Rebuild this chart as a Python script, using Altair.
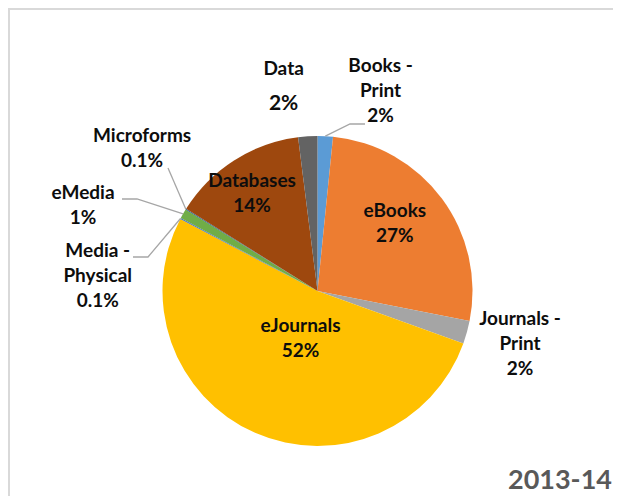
import math
import altair as alt
import pandas as pd

# ---- data ----
categories = ["Books - Print", "eBooks", "Journals - Print", "eJournals",
              "Media - Physical", "eMedia", "Microforms", "Databases", "Data"]
name_lines = ["Books -\nPrint", "eBooks", "Journals -\nPrint", "eJournals",
              "Media -\nPhysical", "eMedia", "Microforms", "Databases", "Data"]
values = [1.6, 26.5, 2.4, 52.2, 0.1, 1.0, 0.1, 14.1, 2.0]
pct_labels = ["2%", "27%", "2%", "52%", "0.1%", "1%", "0.1%", "14%", "2%"]
colors = ["#5B9BD5", "#ED7D31", "#A5A5A5", "#FFC000", "#4472C4",
          "#70AD47", "#255E91", "#9E480E", "#636363"]
year_label = "2013-14"

# ---- layout (styles / positions, kept apart from the data) ----
W, H = 605, 488
CX, CY, R = 309.5, 283, 155
FONT = "Lato"
LH = 25
label_layout = {
    "Books - Print": dict(radius=200, dx=53, dy=0),
    "eBooks": dict(radius=100, dx=-3, dy=-8),
    "Journals - Print": dict(radius=205, dx=5, dy=-2),
    "eJournals": dict(radius=52, dx=4, dy=0),
    "Media - Physical": dict(radius=200, dx=-43, dy=79),
    "eMedia": dict(radius=200, dx=-61, dy=14),
    "Microforms": dict(radius=170, dx=-31, dy=-53),
    "Databases": dict(radius=116, dx=-3, dy=0),
}
# the "Data" label is set as two separate lines, the percentage a little larger
data_name_layout = dict(radius=205, dx=-21, dy=-17.5, fontSize=19)
data_pct_layout = dict(radius=205, dx=-21, dy=17.5, fontSize=21)

# leader-line outer points, offsets from the pie centre
leader_layout = {
    "Books - Print": [(32.5, -167), (47.5, -167)],
    "Microforms": [(-149.5, -123)],
    "eMedia": [(-180.5, -92), (-195.5, -92)],
    "Media - Physical": [(-169.5, -34), (-184.5, -34)],
}

df = pd.DataFrame({
    "idx": list(range(len(categories))),
    "category": categories,
    "value": values,
    "name": name_lines,
    "pct": pct_labels,
    "label": [n + "\n" + p for n, p in zip(name_lines, pct_labels)],
})
total = sum(values)
theta_scale = alt.Scale(domain=[0, total])

pie = alt.Chart(df).mark_arc(outerRadius=R).encode(
    theta=alt.Theta("value:Q", stack=True, scale=theta_scale),
    color=alt.Color("category:N", scale=alt.Scale(domain=categories, range=colors), legend=None),
    order=alt.Order("idx:Q"),
    x=alt.value(CX),
    y=alt.value(CY),
)

text_base = alt.Chart(df).transform_window(
    cum="sum(value)", sort=[alt.SortField("idx")], frame=[None, 0]
).transform_calculate(mid="datum.cum - datum.value / 2")


def label_layer(cat, field, radius, dx, dy, fontSize=19, lineHeight=LH):
    return text_base.transform_filter(alt.datum.category == cat).mark_text(
        radius=radius, dx=dx, dy=dy,
        lineBreak="\n", lineHeight=lineHeight,
        font=FONT, fontWeight="bold", fontSize=fontSize, color="#0d0d0d",
        align="center", baseline="middle",
    ).encode(
        theta=alt.Theta("mid:Q", scale=theta_scale),
        text=f"{field}:N",
        x=alt.value(CX),
        y=alt.value(CY),
    )


text_layers = []
for cat, lbl in zip(categories, df["label"]):
    if cat not in label_layout:
        continue
    lay = label_layout[cat]
    nlines = lbl.count("\n") + 1
    text_layers.append(label_layer(cat, "label", lay["radius"], lay["dx"],
                                   lay["dy"] - (nlines - 1) * LH / 2))
text_layers.append(label_layer("Data", "name", **data_name_layout))
text_layers.append(label_layer("Data", "pct", **data_pct_layout))

# leader lines: start at slice mid-angle on the pie edge
rows = []
cum = 0.0
for cat, v in zip(categories, values):
    mid = (cum + v / 2) / total * 2 * math.pi
    cum += v
    if cat in leader_layout:
        pts = [(R * math.sin(mid), -R * math.cos(mid))] + leader_layout[cat]
        for k, (px, py) in enumerate(pts):
            rows.append({"leader": cat, "k": k, "px": CX + px, "py": CY + py})
lead_df = pd.DataFrame(rows)
leaders = alt.Chart(lead_df).mark_line(color="#A6A6A6", strokeWidth=1.3).encode(
    x=alt.X("px:Q", scale=alt.Scale(domain=[0, W], range=[0, W]), axis=None),
    y=alt.Y("py:Q", scale=alt.Scale(domain=[0, H], range=[0, H]), axis=None),
    detail="leader:N",
    order="k:Q",
)

one = pd.DataFrame({"a": [0]})
border_top = alt.Chart(one).mark_rule(color="#D9D9D9", strokeWidth=2).encode(
    x=alt.value(0), x2=alt.value(W), y=alt.value(1))
border_left = alt.Chart(one).mark_rule(color="#D9D9D9", strokeWidth=2).encode(
    x=alt.value(1), y=alt.value(0), y2=alt.value(H))

year = alt.Chart(pd.DataFrame({"t": [year_label]})).mark_text(
    font=FONT, fontWeight="bold", fontSize=27, color="#595959",
    align="right", baseline="alphabetic",
).encode(text="t:N", x=alt.value(W - 1), y=alt.value(481))

chart = alt.layer(
    border_top, border_left, pie, leaders, *text_layers, year
).properties(
    width=W, height=H, autosize=alt.AutoSizeParams(type="none"), padding=0,
    background="white",
).configure_view(strokeWidth=0)

chart.save("out.html", embed_options={"renderer": "svg", "actions": False})
